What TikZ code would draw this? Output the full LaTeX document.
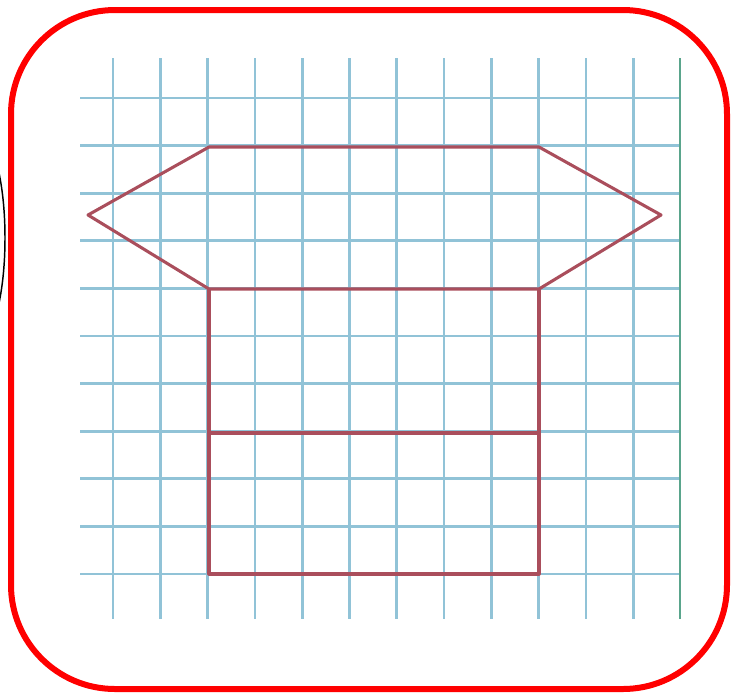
\documentclass[tikz,border=0pt]{standalone}
\usepackage{tikz}
\usetikzlibrary{calc}
\definecolor{gridblue}{RGB}{145,195,215}
\definecolor{edgegreen}{RGB}{90,165,140}
\definecolor{shaperose}{RGB}{170,78,92}

\begin{document}
\begin{tikzpicture}[x=0.75pt, y=-0.75pt,
    gridline/.style={gridblue, line width=2pt},
    figline/.style={shaperose, line width=2.3pt, line join=round},
    frame/.style={red, line width=4.5pt, rounded corners=78pt}]
      \useasboundingbox (0,0) rectangle (731,693);
      % squared paper
      \foreach \i in {0,...,11}
        \draw[gridline] ({113+47.3*\i},58) -- ({113+47.3*\i},619);
      \foreach \j in {0,...,10}
        \draw[gridline] (80,{98+47.6*\j}) -- (680,{98+47.6*\j});
      \draw[edgegreen, line width=2pt] (680,58) -- (680,619);
      % corner points of the figure
      \coordinate (tl) at (209,147);
      \coordinate (tr) at (539,147);
      \coordinate (ml) at (209,289);
      \coordinate (mr) at (539,289);
      \coordinate (cl) at (209,433);
      \coordinate (cr) at (539,433);
      \coordinate (bl) at (209,574);
      \coordinate (br) at (539,574);
      \coordinate (pl) at (88,215);
      \coordinate (pr) at (661,215);
      \draw[figline] (pl) -- (tl) -- (tr) -- (pr) -- (mr) -- (ml) -- cycle;
      \draw[figline] (ml) -- (bl) -- (br) -- (mr);
      \draw[figline] (cl) -- (cr);
      % outer frame
      \draw[frame] (11,10) rectangle (727,689);
      \draw[black, line width=1.1pt] (-20,238) ellipse [x radius=25, y radius=100];
\end{tikzpicture}
\end{document}
